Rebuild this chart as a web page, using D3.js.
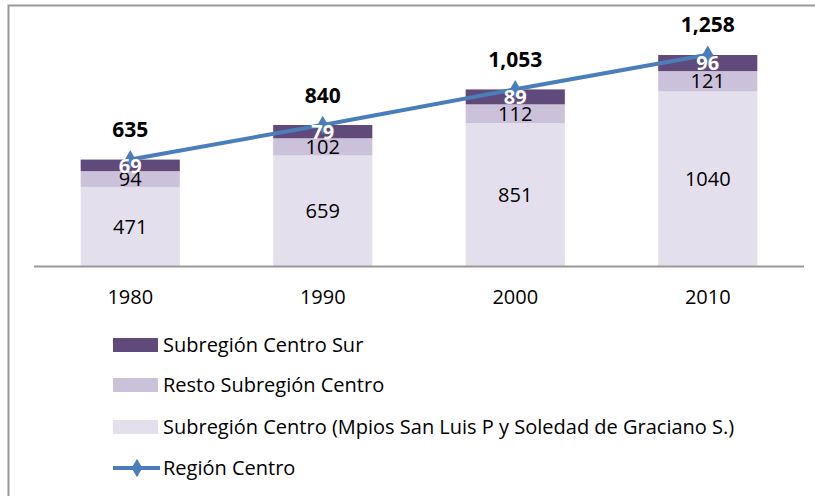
<!DOCTYPE html>
<html>
<head>
<meta charset="utf-8">
<script src="https://cdn.jsdelivr.net/npm/d3@7"></script>
<style>
  body { margin: 0; background: #fff; }
  text { font-family: "Open Sans", "Noto Sans", sans-serif; }
</style>
</head>
<body>
<div id="cntr"></div>
<script>
const years = ["1980", "1990", "2000", "2010"];
const centroMpios = [471, 659, 851, 1040];
const restoCentro = [94, 102, 112, 121];
const centroSur = [69, 79, 89, 96];
const regionCentro = [635, 840, 1053, 1258];

const seriesNames = [
    "Subregión Centro (Mpios San Luis P y Soledad de Graciano S.)",
    "Resto Subregión Centro",
    "Subregión Centro Sur"
];
const seriesColors = ["#e4dfec", "#ccc1da", "#604a7b"];
const lineName = "Región Centro";
const lineColor = "#4a7ebb";

const width = 815, height = 496;

const svg = d3.select("#cntr")
    .append("svg")
    .attr("width", width)
    .attr("height", height);

// frame (only top and left edges visible)
svg.append("path")
    .attr("d", "M8.5,496 V5.5 H815")
    .attr("fill", "none")
    .attr("stroke", "#999")
    .attr("stroke-width", 2);

const x = d3.scaleBand()
    .domain(years)
    .range([34, 804])
    .paddingInner(0.485)
    .paddingOuter(0.2425);

const y = d3.scaleLinear()
    .domain([0, 1400])
    .range([266, 31]);

const cx = yr => x(yr) + x.bandwidth() / 2;

// stack data
const rows = years.map((yr, i) => ({
    year: yr, a: centroMpios[i], b: restoCentro[i], c: centroSur[i]
}));
const stack = d3.stack().keys(["a", "b", "c"])(rows);

const layers = svg.selectAll("g.layer")
    .data(stack)
    .join("g")
        .attr("class", "layer")
        .attr("fill", (d, i) => seriesColors[i]);

layers.selectAll("rect")
    .data(d => d)
    .join("rect")
        .attr("x", d => x(d.data.year))
        .attr("width", x.bandwidth())
        .attr("y", d => y(d[1]))
        .attr("height", d => y(d[0]) - y(d[1]));

// axis line + tick labels
svg.append("line")
    .attr("x1", 34).attr("x2", 804)
    .attr("y1", 266.5).attr("y2", 266.5)
    .attr("stroke", "#999")
    .attr("stroke-width", 2);

svg.selectAll("text.tick")
    .data(years)
    .join("text")
        .attr("class", "tick")
        .attr("x", d => cx(d))
        .attr("y", 297)
        .attr("dy", "0.36em")
        .attr("text-anchor", "middle")
        .style("font-size", "20px")
        .attr("fill", "#000")
        .text(d => d);

// segment labels for the two lighter series
layers.filter((d, i) => i < 2).each(function(layer) {
    d3.select(this).selectAll("text")
        .data(layer)
        .join("text")
            .attr("x", d => cx(d.data.year))
            .attr("y", d => (y(d[0]) + y(d[1])) / 2)
            .attr("dy", "0.36em")
            .attr("text-anchor", "middle")
            .style("font-size", "20px")
            .attr("fill", "#000")
            .text(d => d[1] - d[0]);
});

// line series
const line = d3.line()
    .x((d, i) => cx(years[i]))
    .y(d => y(d));

svg.append("path")
    .datum(regionCentro)
    .attr("d", line)
    .attr("fill", "none")
    .attr("stroke", lineColor)
    .attr("stroke-width", 4);

const diamond = d3.symbol().type(d3.symbolDiamond).size(100);

svg.selectAll("path.mark")
    .data(regionCentro)
    .join("path")
        .attr("class", "mark")
        .attr("d", diamond)
        .attr("transform", (d, i) => `translate(${cx(years[i])},${y(d)})`)
        .attr("fill", lineColor);

// white labels of top series drawn above the line
svg.append("g").selectAll("text")
    .data(stack[2])
    .join("text")
        .attr("x", d => cx(d.data.year))
        .attr("y", d => (y(d[0]) + y(d[1])) / 2)
        .attr("dy", "0.36em")
        .attr("text-anchor", "middle")
        .style("font-size", "20px")
        .style("font-weight", "bold")
        .attr("fill", "#fff")
        .text(d => d[1] - d[0]);

// totals
svg.selectAll("text.total")
    .data(regionCentro)
    .join("text")
        .attr("class", "total")
        .attr("x", (d, i) => cx(years[i]))
        .attr("y", d => y(d) - 30)
        .attr("dy", "0.36em")
        .attr("text-anchor", "middle")
        .style("font-size", "21px")
        .style("font-weight", "bold")
        .attr("fill", "#000")
        .text(d => d3.format(",")(d));

// legend
const legendItems = [
    { name: seriesNames[2], color: seriesColors[2] },
    { name: seriesNames[1], color: seriesColors[1] },
    { name: seriesNames[0], color: seriesColors[0] }
];
const legendY = [345, 385, 427];

const lg = svg.append("g");
lg.selectAll("rect")
    .data(legendItems)
    .join("rect")
        .attr("x", 113)
        .attr("y", (d, i) => legendY[i] - 7)
        .attr("width", 45)
        .attr("height", 14)
        .attr("fill", d => d.color);

lg.selectAll("text")
    .data(legendItems)
    .join("text")
        .attr("x", 163)
        .attr("y", (d, i) => legendY[i])
        .attr("dy", "0.36em")
        .style("font-size", "20px")
        .attr("fill", "#000")
        .text(d => d.name);

lg.append("line")
    .attr("x1", 113).attr("x2", 160)
    .attr("y1", 468).attr("y2", 468)
    .attr("stroke", lineColor)
    .attr("stroke-width", 4);
lg.append("path")
    .attr("d", diamond)
    .attr("transform", "translate(137,468)")
    .attr("fill", lineColor);
lg.append("text")
    .attr("x", 163)
    .attr("y", 468)
    .attr("dy", "0.36em")
    .style("font-size", "20px")
    .attr("fill", "#000")
    .text(lineName);
</script>
</body>
</html>
